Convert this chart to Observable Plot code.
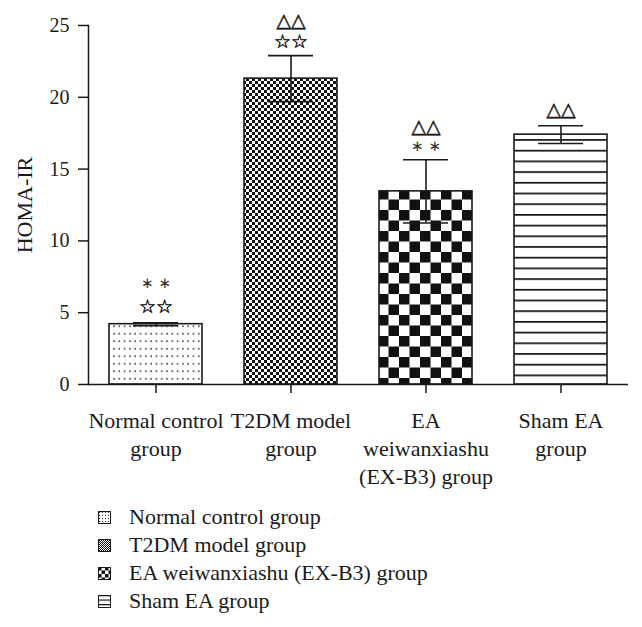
<!DOCTYPE html>
<html>
<head>
<meta charset="utf-8">
<script src="https://cdn.jsdelivr.net/npm/d3@7"></script>
<script src="https://cdn.jsdelivr.net/npm/@observablehq/plot@0.6"></script>
<style>
  html, body { margin: 0; padding: 0; background: #fff; }
  #chart { width: 642px; }
  .legend { padding: 13px 0 0 98px; font-family: "Liberation Serif", "Times New Roman", serif; font-size: 22px; color: #1a1a1a; }
  .legend .row { height: 28px; display: flex; align-items: center; }
  .legend svg { margin-right: 18px; flex: none; }
</style>
</head>
<body>
<svg width="0" height="0" style="position:absolute">
  <defs>
    <pattern id="pDots" patternUnits="userSpaceOnUse" width="5.3" height="7.5">
      <rect width="5.3" height="7.5" fill="#fff"/>
      <rect x="2" y="3" width="1.5" height="1.5" fill="#222"/>
    </pattern>
    <pattern id="pFine" patternUnits="userSpaceOnUse" width="6" height="6">
      <rect width="6" height="6" fill="#fff"/>
      <rect x="0" y="0" width="3" height="3" fill="#111"/>
      <rect x="3" y="3" width="3" height="3" fill="#111"/>
    </pattern>
    <pattern id="pCoarse" patternUnits="userSpaceOnUse" width="21" height="21" x="0" y="0">
      <rect width="21" height="21" fill="#fff"/>
      <rect x="0" y="0" width="10.5" height="10.5" fill="#111"/>
      <rect x="10.5" y="10.5" width="10.5" height="10.5" fill="#111"/>
    </pattern>
    <pattern id="pLines" patternUnits="userSpaceOnUse" width="10" height="10.7">
      <rect width="10" height="10.7" fill="#fff"/>
      <rect x="0" y="0" width="10" height="1.7" fill="#111"/>
    </pattern>
    <pattern id="sDots" patternUnits="userSpaceOnUse" width="3" height="3">
      <rect width="3" height="3" fill="#fff"/>
      <rect x="1" y="1" width="1" height="1" fill="#333"/>
    </pattern>
    <pattern id="sFine" patternUnits="userSpaceOnUse" width="2" height="2">
      <rect width="2" height="2" fill="#fff"/>
      <rect x="0" y="0" width="1" height="1" fill="#111"/>
      <rect x="1" y="1" width="1" height="1" fill="#111"/>
    </pattern>
    <pattern id="sCoarse" patternUnits="userSpaceOnUse" width="7" height="7">
      <rect width="7" height="7" fill="#fff"/>
      <rect x="0" y="0" width="3.5" height="3.5" fill="#111"/>
      <rect x="3.5" y="3.5" width="3.5" height="3.5" fill="#111"/>
    </pattern>
    <pattern id="sLines" patternUnits="userSpaceOnUse" width="4" height="4.5">
      <rect width="4" height="4.5" fill="#fff"/>
      <rect x="0" y="0" width="4" height="1.2" fill="#111"/>
    </pattern>
  </defs>
</svg>
<div id="chart"></div>
<script>
// ---- data ----
const groups = ["Normal control group", "T2DM model group", "EA weiwanxiashu (EX-B3) group", "Sham EA group"];
const axisLabels = ["Normal control\ngroup", "T2DM model\ngroup", "EA\nweiwanxiashu\n(EX-B3) group", "Sham EA\ngroup"];
const means = [4.2, 21.3, 13.45, 17.4];
const sds = [0.1, 1.6, 2.2, 0.62];
const yTicks = [0, 5, 10, 15, 20, 25];
const yLabel = "HOMA-IR";
// significance marks: group index, symbol, y position (data units)
const markGroup = [0, 0, 1, 1, 2, 2, 3];
const markText = ["∗ ∗", "☆☆", "△△", "☆☆", "△△", "∗ ∗", "△△"];
const markY = [7.05, 5.4, 25.35, 23.85, 17.95, 16.6, 19.1];

// ---- styles ----
const barFills = ["url(#pDots)", "url(#pFine)", "url(#pCoarse)", "url(#pLines)"];
const swatchFills = ["url(#sDots)", "url(#sFine)", "url(#sCoarse)", "url(#sLines)"];
const ink = "#1a1a1a";

const bars = groups.map((g, i) => ({group: g, mean: means[i], sd: sds[i], fill: barFills[i]}));
const marks = markGroup.map((gi, i) => ({group: groups[gi], text: markText[i], y: markY[i], star: markText[i].includes("∗")}));
const labelOf = new Map(groups.map((g, i) => [g, axisLabels[i]]));

const chart = Plot.plot({
  width: 642,
  height: 490,
  marginLeft: 88,
  marginRight: 14,
  marginTop: 25,
  marginBottom: 106,
  style: {fontFamily: "'Liberation Serif', 'Times New Roman', serif", fontSize: "20px", color: ink, background: "#fff"},
  x: {domain: groups, paddingInner: 0.31, paddingOuter: 0.155},
  y: {domain: [0, 25]},
  color: {type: "identity"},
  marks: [
    Plot.axisY({ticks: yTicks, tickSize: 10, tickPadding: 9, fontSize: 20, label: null, strokeWidth: 1.5}),
    Plot.text([yLabel], {frameAnchor: "left", textAnchor: "middle", dx: -64, rotate: -90, fontSize: 22, fill: ink}),
    Plot.axisX({tickSize: 9, tickPadding: 15, fontSize: 22, lineHeight: 1.27, tickFormat: d => labelOf.get(d), label: null, strokeWidth: 1.5}),
    Plot.frame({anchor: "left", strokeWidth: 1.5, stroke: ink}),
    Plot.barY(bars, {x: "group", y: "mean", fill: "fill", stroke: ink, strokeWidth: 1.6}),
    Plot.ruleY([0], {stroke: ink, strokeWidth: 1.5}),
    Plot.ruleX(bars, {x: "group", y1: d => d.mean - d.sd, y2: d => d.mean + d.sd, stroke: ink, strokeWidth: 1.6}),
    Plot.tickY(bars, {x: "group", y: d => d.mean + d.sd, insetLeft: 24, insetRight: 24, stroke: ink, strokeWidth: 1.6}),
    Plot.tickY(bars, {x: "group", y: d => d.mean - d.sd, insetLeft: 24, insetRight: 24, stroke: ink, strokeWidth: 1.6}),
    Plot.text(marks.filter(d => !d.star), {x: "group", y: "y", text: "text", fontFamily: "'DejaVu Sans', sans-serif", fontSize: 19, fill: ink, stroke: ink, strokeWidth: 0.5}),
    Plot.text(marks.filter(d => d.star), {x: "group", y: "y", text: "text", fontFamily: "'DejaVu Sans', sans-serif", fontSize: 15, fill: "#333"})
  ]
});
document.getElementById("chart").append(chart);

// ---- legend ----
const legend = d3.select("#chart").append("div").attr("class", "legend");
groups.forEach((g, i) => {
  const row = legend.append("div").attr("class", "row");
  const sw = row.append("svg").attr("width", 13).attr("height", 13);
  sw.append("rect").attr("x", 0.5).attr("y", 0.5).attr("width", 12).attr("height", 12)
    .attr("fill", swatchFills[i]).attr("stroke", ink).attr("stroke-width", 1);
  row.append("span").text(g);
});
</script>
</body>
</html>
